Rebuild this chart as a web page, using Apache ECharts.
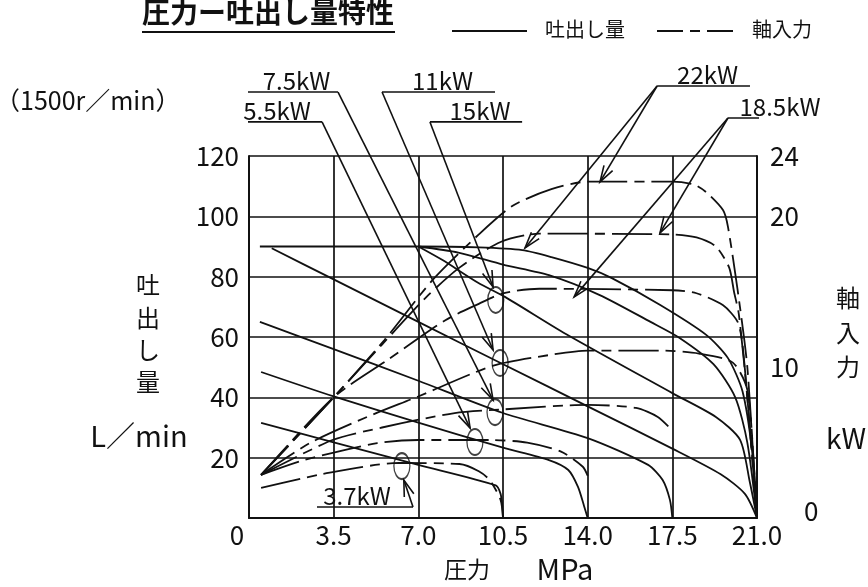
<!DOCTYPE html>
<html><head><meta charset="utf-8">
<script src="https://cdn.jsdelivr.net/npm/echarts@6.0.0/dist/echarts.min.js"></script>
<style>html,body{margin:0;padding:0;background:#fff}#c{width:868px;height:587px}</style>
</head><body><div id="c"></div>
<script>
const JP = '"Noto Sans CJK JP", "Noto Sans", sans-serif';

// axes
const xTicks = [0, 3.5, 7, 10.5, 14, 17.5, 21];
const flowTicks = [20, 40, 60, 80, 100, 120];
const powerTicks = [0, 10, 20, 24];

// 吐出し量 (L/min) vs 圧力 (MPa)
const flow37  = [[0.5,31.5],[3.5,25.1],[7,17.6],[10.2,10.8],[10.4,8],[10.47,4],[10.5,0]];
const flow55  = [[0.5,48.4],[3.5,40.3],[7,31.6],[10.5,23.3],[12.4,19.2],[13.2,15.9],[13.6,10.3],[13.85,4],[14,0]];
const flow75  = [[0.45,65],[3.5,56],[7,45.5],[10.5,34.8],[14,26.5],[16.5,17.6],[17.1,12.6],[17.4,6],[17.5,0]];
const flow11  = [[0.94,89.4],[3.5,79.1],[7,65],[10.4,51.4],[14,37],[17.5,23],[19.5,14.5],[20.5,8],[21,0]];
const flow15  = [[7,90],[8,85.5],[9.47,78],[10.58,73.3],[13.1,61],[17.5,41.4],[19.3,33.5],[20.3,25.9],[20.7,12],[21,0]];
const flow185 = [[7,90],[8.65,88],[10.5,84],[12.4,80.5],[14.5,73.9],[16.6,65],[17.8,59.7],[19.2,51],[20.1,40],[20.6,25],[21,0]];
const flow22  = [[0.45,90],[7,90],[9.5,89.7],[11.3,88.8],[12.5,86.5],[14,82.9],[15,79.5],[17,70.6],[18.9,60.7],[19.8,53],[20.4,42],[20.8,22],[21,0]];

// 軸入力 (kW) vs 圧力 (MPa)
const power37  = [[0.5,2.0],[3,2.9],[6.2,3.65],[8.7,3.58],[9.5,3.1],[9.96,2.5],[10.4,1.2],[10.5,0]];
const power55  = [[0.5,2.86],[2.3,3.85],[5.3,4.97],[7,5.17],[10,5.17],[11.5,5.0],[12.9,4.4],[13.8,3.4],[14,2.8]];
const power75  = [[0.5,2.86],[3.45,5.17],[5.5,6.0],[8.5,6.96],[10.5,7.2],[14,7.5],[16,7.3],[16.9,6.7],[17.5,5.8]];
const power11  = [[0.5,2.86],[2.52,4.97],[4.88,6.7],[6.94,8.02],[10.1,10.1],[12.4,10.8],[14,11.1],[17,11.1],[18.6,10.9],[20,10.3],[20.6,8.5],[20.85,4],[21,0]];
const power15  = [[0.5,2.86],[3.5,8],[5.75,10.5],[8.1,13.1],[9.5,14.2],[10.5,14.9],[12,15.2],[17.5,15.1],[18.5,14.9],[19.6,14.1],[20.2,13],[20.4,11.5],[20.7,6],[21,0]];
const power185 = [[0.5,2.86],[3.5,8],[5.5,11.5],[7.3,14.6],[8.7,16.6],[10.4,18.3],[12,18.85],[17.5,18.8],[18.5,18.6],[19.3,18.0],[19.85,16.6],[20.05,15],[20.25,13.5],[20.6,8],[21,0]];
const power22  = [[0.5,2.86],[3.5,8],[5.6,11.8],[7.6,15.8],[9.5,18.8],[10.9,20.7],[12.5,21.8],[14,22.3],[17.5,22.3],[18.4,22.1],[18.9,21.6],[19.6,20.4],[19.8,19.3],[20.2,15.1],[20.6,10],[21,0]];

// rated-power markers (ellipses) in (MPa, L/min)
const markers = [[6.32,17.2],[9.34,25.2],[10.17,35.1],[10.38,51.4],[10.2,72.3]];

// labels: text, underline from/to, leader tips (MPa, L/min)
const labelNames = ['7.5kW','5.5kW','11kW','15kW','22kW','18.5kW','3.7kW'];
const underlines = [
  [[-0.08,141.2],[3.68,141.2]],
  [[-1.03,131.3],[3.02,131.3]],
  [[5.50,141.2],[10.17,141.2]],
  [[7.48,131.3],[11.29,131.3]],
  [[16.87,143.2],[20.71,143.2]],
  [[19.80,132.6],[23.77,132.6]],
  [[2.81,3.65],[6.78,3.65]]
];
const leaderStarts = [[3.68,141.2],[3.02,131.3],[5.50,141.2],[7.48,131.3],[16.87,143.2],[16.87,143.2],[19.80,132.6],[19.80,132.6],[6.78,3.65]];
const leaderTips   = [[10.09,39.1],[9.14,29.8],[10.09,55.7],[10.09,76.6],[14.51,111.4],[11.41,89.5],[16.99,94.5],[13.44,73.3],[6.4,12.6]];

const chart = echarts.init(document.getElementById('c'), null, {renderer:'canvas'});
const INK = '#111';
const solid = (data) => ({type:'line', data, yAxisIndex:0, symbol:'none', smooth:0.25, silent:true,
  lineStyle:{color:INK, width:1.8}, z:3});
const dashed = (data) => ({type:'line', data, yAxisIndex:1, symbol:'none', smooth:0.25, silent:true,
  lineStyle:{color:INK, width:1.8, type:[40,7,10,7]}, z:3});
const plain = (data) => ({type:'line', data, yAxisIndex:0, symbol:'none', clip:false, silent:true,
  lineStyle:{color:INK, width:1.6}, z:4});

const series = [
  ...[flow37, flow55, flow75, flow11, flow15, flow185, flow22].map(solid),
  ...[power37, power55, power75, power11, power15, power185, power22].map(dashed),
  ...underlines.map(plain),
  ...leaderStarts.map((s,i) => plain([s, leaderTips[i]])),
  {type:'scatter', data:markers, yAxisIndex:0, symbol:'circle', symbolSize:[16,26], silent:true, z:5,
   itemStyle:{color:'rgba(255,255,255,0)', borderColor:INK, borderWidth:1.6}}
];

chart.setOption({
  animation:false,
  backgroundColor:'#fff',
  grid:{left:249, right:111, top:156, bottom:69},
  xAxis:{type:'value', min:0, max:21, interval:3.5,
    axisLine:{lineStyle:{color:INK, width:2}}, axisTick:{show:false},
    splitLine:{lineStyle:{color:INK, width:1.7}},
    axisLabel:{color:INK, fontFamily:JP, fontSize:26, margin:4, customValues:xTicks,
      formatter:v => v === 0 ? '{z|0}' : v.toFixed(1),
      rich:{z:{fontFamily:JP, fontSize:26, color:INK, padding:[0,24,0,0]}}}},
  yAxis:[
    {type:'value', min:0, max:120, interval:20,
     axisLine:{show:true, lineStyle:{color:INK, width:2}}, axisTick:{show:false},
     splitLine:{lineStyle:{color:INK, width:1.7}},
     axisLabel:{color:INK, fontFamily:JP, fontSize:26, margin:10, customValues:flowTicks}},
    {type:'value', min:0, max:24, interval:2, position:'right',
     axisLine:{show:true, lineStyle:{color:INK, width:2}}, axisTick:{show:false},
     splitLine:{show:false},
     axisLabel:{color:INK, fontFamily:JP, fontSize:26, margin:13, customValues:powerTicks,
       formatter:v => v === 0 ? '{z|0}' : String(v),
       rich:{z:{fontFamily:JP, fontSize:26, color:INK, padding:[0,0,14,34]}}}}
  ],
  series
});

// arrowheads and texts
const gfx = [];
const px = p => chart.convertToPixel({xAxisIndex:0, yAxisIndex:0}, p);
leaderStarts.forEach((s,i) => {
  const A = px(s), B = px(leaderTips[i]);
  const dx = B[0]-A[0], dy = B[1]-A[1], L = Math.hypot(dx,dy);
  const ux = dx/L, uy = dy/L, len = 17, a = 0.3;
  const w = ang => [B[0] - len*(ux*Math.cos(ang) - uy*Math.sin(ang)), B[1] - len*(ux*Math.sin(ang) + uy*Math.cos(ang))];
  gfx.push({type:'polyline', shape:{points:[w(a), B, w(-a)]}, style:{stroke:INK, lineWidth:1.6, fill:null}, z:10});
});
labelNames.forEach((t,i) => {
  const a = px(underlines[i][0]), b = px(underlines[i][1]);
  const cx = i === 6 ? (a[0]+b[0])/2 - 8 : (a[0]+b[0])/2 + 4;
  gfx.push({type:'text', x:cx, y:a[1]+1, style:{text:t, font:'24px '+JP, fill:INK, align:'center', verticalAlign:'bottom'}, z:10});
});
const T = (text, x, y, font, align) => ({type:'text', x, y, style:{text, font, fill:INK, align:align||'left', verticalAlign:'middle'}, z:10});
gfx.push(
  T('圧力ー吐出し量特性', 142, 12, 'bold 28px '+JP),
  {type:'line', shape:{x1:142, y1:32, x2:395, y2:32}, style:{stroke:INK, lineWidth:2.2}},
  {type:'line', shape:{x1:452, y1:31, x2:527, y2:31}, style:{stroke:INK, lineWidth:2}},
  T('吐出し量', 545, 29, '20px '+JP),
  {type:'line', shape:{x1:657, y1:31, x2:736, y2:31}, style:{stroke:INK, lineWidth:2, lineDash:[26,7,10,7]}},
  T('軸入力', 752, 29, '20px '+JP),
  T('（1500r／min）', -5, 100, '25px '+JP),
  T('吐', 148, 285, '24px '+JP, 'center'),
  T('出', 148, 318, '24px '+JP, 'center'),
  T('し', 148, 350, '24px '+JP, 'center'),
  T('量', 148, 382, '24px '+JP, 'center'),
  T('L／min', 139, 436, '29px '+JP, 'center'),
  T('軸', 848, 298, '24px '+JP, 'center'),
  T('入', 848, 333, '24px '+JP, 'center'),
  T('力', 848, 367, '24px '+JP, 'center'),
  T('kW', 846, 438, '28px '+JP, 'center'),
  T('圧力', 467, 569, '23px '+JP, 'center'),
  T('MPa', 565, 569, '29px '+JP, 'center')
);
chart.setOption({graphic:gfx});
</script></body></html>
